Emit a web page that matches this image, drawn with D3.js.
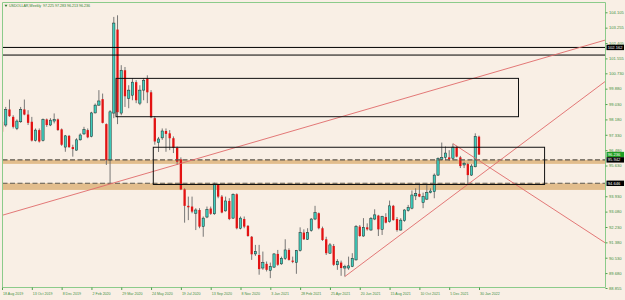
<!DOCTYPE html>
<html>
<head>
<meta charset="utf-8">
<script src="https://cdn.jsdelivr.net/npm/d3@7"></script>
<style>
html, body { margin: 0; padding: 0; background: #f9efe5; }
svg { display: block; }
text { font-family: "Liberation Sans", Arial, sans-serif; }
</style>
</head>
<body>
<svg id="chart" width="625" height="300"></svg>
<script>
// USDOLLAR weekly bars, 18 Aug 2019 .. 30 Jan 2022
const opens = [
  98.05, 97.87, 98.73, 98.32, 97.68, 98.05, 98.73, 98.45, 98.05, 97.01,
  97.59, 97.01, 98.18, 97.87, 98.09, 98.18, 97.63, 96.65, 97.27, 96.65,
  96.48, 97.05, 97.38, 97.59, 97.24, 98.54, 98.97, 99.30, 97.92, 95.93,
  98.53, 103.15, 98.53, 100.90, 99.35, 99.52, 100.24, 99.08, 99.80, 100.46,
  99.68, 98.25, 96.89, 97.16, 97.54, 97.41, 97.14, 96.60, 95.97, 94.31,
  93.40, 93.36, 92.99, 93.17, 92.25, 92.78, 93.25, 92.96, 94.55, 93.91,
  93.12, 93.67, 92.72, 94.04, 92.16, 92.67, 92.29, 91.69, 90.74, 90.68,
  89.96, 90.19, 89.83, 90.01, 90.74, 90.19, 90.50, 90.96, 90.37, 90.26,
  90.92, 91.92, 91.55, 92.03, 92.67, 92.99, 92.16, 91.55, 90.78, 91.18,
  90.14, 90.26, 89.96, 89.96, 90.04, 90.41, 92.25, 91.73, 92.21, 92.06,
  92.67, 92.86, 92.10, 92.78, 92.52, 93.40, 92.67, 92.06, 92.58, 93.14,
  93.27, 93.95, 94.06, 93.58, 93.77, 94.13, 94.18, 95.10, 95.97, 96.08,
  96.08, 96.03, 96.65, 96.08, 95.66, 95.71, 95.10, 95.56, 97.225
];
const highs = [
  98.23, 98.87, 99.28, 98.41, 98.18, 98.87, 99.28, 98.69, 98.32, 97.68,
  97.68, 98.23, 98.23, 98.25, 98.51, 98.23, 97.68, 97.32, 97.32, 96.78,
  97.14, 97.41, 97.77, 97.68, 98.60, 99.06, 99.80, 99.61, 97.96, 98.69,
  103.85, 103.94, 101.18, 101.08, 100.07, 100.46, 100.35, 100.07, 100.46, 100.62,
  99.80, 98.36, 97.21, 97.68, 97.68, 97.59, 97.24, 96.68, 96.08, 94.37,
  93.91, 93.91, 93.27, 93.27, 92.81, 93.36, 93.36, 94.68, 94.61, 94.00,
  93.91, 93.82, 94.09, 94.09, 92.81, 92.81, 92.34, 91.73, 91.24, 91.24,
  90.87, 90.32, 90.26, 90.78, 90.96, 90.59, 91.55, 91.05, 90.59, 90.96,
  92.21, 92.10, 92.16, 92.72, 93.40, 93.03, 92.25, 91.69, 91.34, 91.29,
  90.45, 90.37, 90.14, 90.59, 90.78, 92.34, 92.34, 92.72, 92.43, 92.78,
  93.21, 92.90, 92.85, 92.99, 93.69, 93.45, 92.78, 92.72, 93.21, 93.45,
  94.25, 94.37, 94.55, 94.13, 94.55, 94.37, 95.19, 96.08, 96.90, 96.68,
  96.48, 96.84, 96.72, 96.16, 95.84, 95.78, 95.71, 97.41, 97.283
];
const lows = [
  97.41, 97.77, 98.32, 97.68, 97.59, 97.99, 98.41, 97.87, 96.96, 96.96,
  96.90, 96.96, 97.77, 97.81, 97.96, 97.55, 96.72, 96.39, 96.60, 96.12,
  96.45, 97.01, 97.32, 97.14, 97.19, 98.51, 98.93, 97.96, 95.66, 94.61,
  98.25, 97.92, 98.41, 98.87, 98.80, 99.24, 99.08, 98.97, 99.24, 99.08,
  98.25, 96.78, 96.38, 97.05, 96.39, 96.48, 96.32, 95.66, 94.27, 92.47,
  92.61, 92.99, 92.06, 92.16, 91.69, 92.72, 92.90, 92.90, 93.82, 92.99,
  93.08, 92.61, 92.67, 92.10, 92.10, 92.16, 91.69, 90.41, 90.63, 89.59,
  89.86, 89.77, 89.40, 89.96, 90.08, 90.14, 90.41, 90.37, 90.23, 89.64,
  90.87, 91.51, 91.51, 91.97, 92.61, 92.10, 91.46, 90.68, 90.74, 90.08,
  89.86, 89.53, 89.49, 89.86, 90.01, 90.37, 91.69, 91.69, 92.03, 92.03,
  92.61, 91.73, 91.79, 92.43, 92.47, 92.58, 91.97, 92.03, 92.52, 93.08,
  93.21, 93.72, 93.88, 93.27, 93.72, 94.09, 93.82, 95.05, 95.93, 95.93,
  95.89, 95.93, 96.08, 95.49, 95.49, 94.55, 95.05, 95.53, 96.213
];
const closes = [
  97.50, 98.73, 98.36, 97.77, 98.09, 98.73, 98.45, 97.99, 97.01, 97.59,
  96.96, 98.18, 97.87, 98.14, 98.18, 97.59, 96.78, 97.27, 96.65, 96.54,
  97.05, 97.32, 97.63, 97.19, 98.54, 98.97, 99.20, 97.99, 95.93, 98.60,
  103.51, 98.58, 100.90, 99.46, 99.80, 100.24, 99.24, 99.80, 100.35, 99.68,
  98.30, 96.96, 97.10, 97.54, 97.38, 97.14, 96.60, 95.84, 94.31, 93.40,
  93.32, 93.08, 93.17, 92.25, 92.72, 93.21, 92.96, 94.61, 93.91, 93.03,
  93.67, 92.67, 94.04, 92.16, 92.72, 92.25, 91.73, 90.72, 90.87, 89.90,
  90.26, 89.86, 90.04, 90.74, 90.14, 90.50, 90.96, 90.41, 90.30, 90.92,
  91.92, 91.55, 91.92, 92.67, 93.03, 92.16, 91.51, 90.78, 91.24, 90.14,
  90.32, 89.96, 90.04, 90.08, 90.50, 92.25, 91.73, 92.21, 92.10, 92.70,
  92.90, 92.10, 92.81, 92.47, 93.40, 92.61, 92.06, 92.61, 93.17, 93.32,
  94.00, 94.09, 93.91, 93.91, 94.13, 94.22, 95.10, 96.03, 96.08, 96.32,
  95.97, 96.65, 96.12, 95.60, 95.75, 95.10, 95.60, 97.24, 96.236
];

// time labels every 8 bars
const dateLabels = [
  "18 Aug 2019", "13 Oct 2019", "8 Dec 2019", "2 Feb 2020", "29 Mar 2020",
  "24 May 2020", "19 Jul 2020", "13 Sep 2020", "8 Nov 2020", "3 Jan 2021",
  "28 Feb 2021", "25 Apr 2021", "20 Jun 2021", "15 Aug 2021", "10 Oct 2021",
  "5 Dec 2021", "30 Jan 2022"
];
// price scale labels (the one under the 94.646 marker is hidden in the picture)
const priceTicks = [
  104.105, 103.255, 102.405, 101.555, 100.730, 99.880, 99.030, 98.180, 97.330,
  96.480, 95.630, 93.930, 93.080, 92.230, 91.380, 90.530, 89.680, 88.855
];

// drawn objects (bar index / price)
const blackLevels = [102.162, 101.74];
const dashLevels = [95.942, 94.646];
const bandTops = [95.942, 94.646];
const bandBottoms = [95.72, 94.28];
const boxFrom = [31, 41];
const boxTo = [139, 146];
const boxTop = [100.45, 96.64];
const boxBottom = [98.33, 94.58];
const trendFrom = [[29, 94.61], [92, 89.49], [121, 96.84]];
const trendTo = [[129, 100.60], [128, 95.05], [128, 95.90]];
const trendLeftOpen = [true, false, false];
const priceMarks = [102.162, 96.236, 95.942, 94.646];
const priceMarkKind = ["line", "bid", "line", "line"];

const bars = opens.map((o, i) => ({i: i, o: o, h: highs[i], l: lows[i], c: closes[i]}));

const pLeft = 2.5, pRight = 605.5, pTop = 2.5, pBottom = 287.5;

const svg = d3.select("#chart");
const x = d3.scaleLinear().domain([0, 128]).range([2, 479]);
const y = d3.scaleLinear().domain([88.855, 104.105]).range([288, 12.3]);

svg.append("defs").append("clipPath").attr("id", "plot")
  .append("rect").attr("x", pLeft).attr("y", pTop)
  .attr("width", pRight - pLeft).attr("height", pBottom - pTop);

const plot = svg.append("g").attr("clip-path", "url(#plot)");

// tan zones (background)
plot.selectAll("rect.band")
  .data(bandTops)
  .join("rect")
  .attr("class", "band")
  .attr("x", pLeft).attr("width", pRight - pLeft)
  .attr("y", d => y(d))
  .attr("height", (d, k) => y(bandBottoms[k]) - y(d))
  .attr("fill", "#e2bd8c");

// candles
plot.selectAll("line.wick")
  .data(bars)
  .join("line")
  .attr("class", "wick")
  .attr("x1", d => x(d.i)).attr("x2", d => x(d.i))
  .attr("y1", d => y(d.h)).attr("y2", d => y(d.l))
  .attr("stroke", "#6a6a6a")
  .attr("stroke-width", 0.9);

plot.selectAll("rect.body")
  .data(bars)
  .join("rect")
  .attr("class", "body")
  .attr("x", d => x(d.i) - 1.15)
  .attr("width", 2.3)
  .attr("y", d => y(Math.max(d.o, d.c)))
  .attr("height", d => Math.max(0.7, Math.abs(y(d.o) - y(d.c))))
  .attr("fill", d => d.c >= d.o ? "#3ecdbd" : "#e31212")
  .attr("stroke", d => d.c >= d.o ? "#1b2b28" : "none")
  .attr("stroke-width", 0.5);

// dashed levels
plot.selectAll("line.dash")
  .data(dashLevels)
  .join("line")
  .attr("class", "dash")
  .attr("x1", pLeft).attr("x2", pRight)
  .attr("y1", d => y(d)).attr("y2", d => y(d))
  .attr("stroke", "#5e574d")
  .attr("stroke-width", 1.1)
  .attr("stroke-dasharray", "5,2.5");

// black horizontal lines
plot.selectAll("line.level")
  .data(blackLevels)
  .join("line")
  .attr("class", "level")
  .attr("x1", pLeft).attr("x2", pRight)
  .attr("y1", d => y(d)).attr("y2", d => y(d))
  .attr("stroke", "#000")
  .attr("stroke-width", 1);

// trend lines (rays to the right)
trendFrom.forEach((p, k) => {
  const q = trendTo[k];
  const slope = (q[1] - p[1]) / (q[0] - p[0]);
  const i0 = trendLeftOpen[k] ? x.invert(pLeft) : p[0];
  const i1 = x.invert(pRight);
  plot.append("line")
    .attr("x1", x(i0)).attr("y1", y(p[1] + slope * (i0 - p[0])))
    .attr("x2", x(i1)).attr("y2", y(p[1] + slope * (i1 - p[0])))
    .attr("stroke", "#e06a6a")
    .attr("stroke-width", 0.9);
});

// rectangles
plot.selectAll("rect.box")
  .data(boxFrom)
  .join("rect")
  .attr("class", "box")
  .attr("x", d => x(d) - 1.5)
  .attr("width", (d, k) => x(boxTo[k]) - x(d))
  .attr("y", (d, k) => y(boxTop[k]))
  .attr("height", (d, k) => y(boxBottom[k]) - y(boxTop[k]))
  .attr("fill", "none")
  .attr("stroke", "#111")
  .attr("stroke-width", 1);

// frame
svg.append("path")
  .attr("d", `M${pLeft},${pBottom}V${pTop}H${pRight}V${pBottom}H${pLeft}`)
  .attr("fill", "none")
  .attr("stroke", "#8ccb8a")
  .attr("stroke-width", 1);

// price axis
const yAxis = svg.append("g")
  .attr("transform", `translate(${pRight},0)`)
  .call(d3.axisRight(y).tickValues(priceTicks).tickFormat(d => d.toFixed(3)).tickSize(2).tickPadding(1.5));
yAxis.select(".domain").remove();
yAxis.selectAll("line").attr("stroke", "#4f9f4f");
yAxis.selectAll("text").attr("fill", "#3f8f3f").attr("font-size", 4.1).attr("font-family", "Liberation Sans, Arial, sans-serif");

// price markers on the axis
const marks = svg.append("g");
priceMarks.forEach((v, k) => {
  const yy = y(v);
  marks.append("rect")
    .attr("x", pRight + 1).attr("y", yy - 2.7)
    .attr("width", 17.5).attr("height", 5.4)
    .attr("fill", priceMarkKind[k] === "bid" ? "#1f9e23" : "#000");
  marks.append("text")
    .attr("x", pRight + 2.2).attr("y", yy + 1.5)
    .attr("font-size", 4.1)
    .attr("fill", "#fff")
    .text(v.toFixed(3));
});

// time axis
const labelIdx = dateLabels.map((d, k) => k * 8);
const xAxis = svg.append("g")
  .attr("transform", `translate(0,${pBottom})`)
  .call(d3.axisBottom(x).tickValues(labelIdx).tickFormat((d, k) => dateLabels[k]).tickSize(2.5).tickPadding(2));
xAxis.select(".domain").remove();
xAxis.selectAll("line").attr("stroke", "#4f9f4f");
xAxis.selectAll("text")
  .attr("text-anchor", "start")
  .attr("dx", 0.5)
  .attr("fill", "#3f8f3f")
  .attr("font-size", 3.6)
  .attr("font-family", "Liberation Sans, Arial, sans-serif");

// title
svg.append("path")
  .attr("d", "M4.5,4.8h3l-1.5,2.2z")
  .attr("fill", "#2f7f2f");
svg.append("text")
  .attr("x", 9).attr("y", 7)
  .attr("font-size", 3.6)
  .attr("fill", "#2f7f2f")
  .attr("xml:space", "preserve")
  .text("USDOLLAR,Weekly  97.225 97.283 96.213 96.236");
</script>
</body>
</html>
